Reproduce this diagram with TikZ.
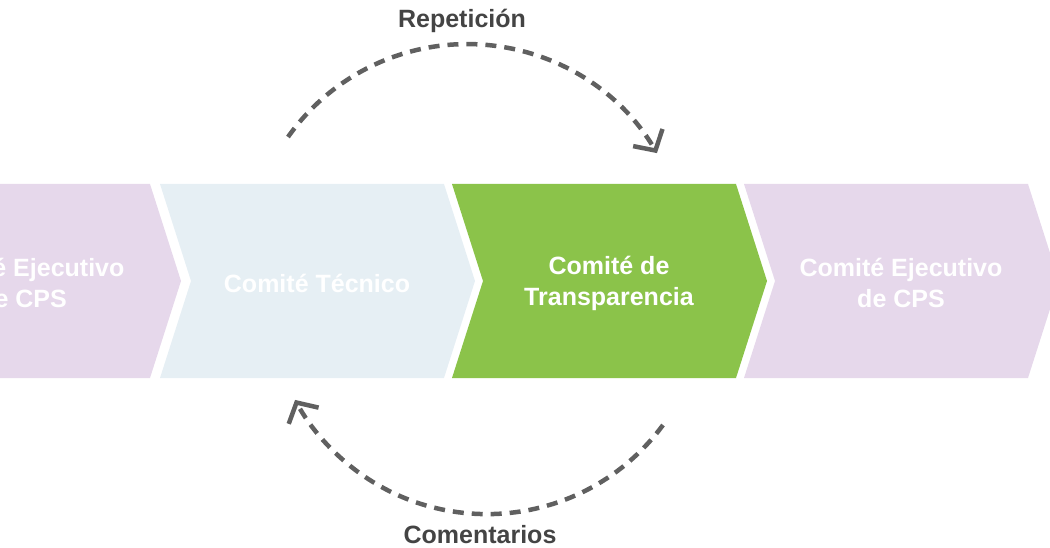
\documentclass[tikz,border=0pt]{standalone}
\usepackage{fontspec}
\setmainfont{Liberation Sans}
\usetikzlibrary{arrows.meta}
\definecolor{cpurple}{HTML}{E6D8EB}
\definecolor{cblue}{HTML}{E6EFF4}
\definecolor{cgreen}{HTML}{8BC34A}
\definecolor{cgray}{HTML}{606060}
\definecolor{ctext}{HTML}{444444}
\newcommand{\drawchev}[4]{%
  \fill[#2] (#1,184) -- ++(284,0) -- ++(31,97) -- ++(-31,97) -- ++(-284,0) -- ++(31,-97) -- cycle;
  \node[chevtext] (#3) at (#1+157,283) {#4};}
\begin{document}
\begin{tikzpicture}[x=1pt,y=-1pt,
  chevtext/.style={text=white, font=\bfseries\fontsize{25}{31}\selectfont, align=center},
  looplabel/.style={text=ctext, font=\bfseries\fontsize{25}{30}\selectfont, anchor=base},
  looparrow/.style={draw=cgray, line width=4.5pt, dash pattern=on 11pt off 8pt,
    -{Straight Barb[length=15pt, width=34pt, line width=4.5pt]}}]
\path[use as bounding box] (0,0) rectangle (1050,548);
\clip (0,0) rectangle (1050,548);
\drawchev{-134}{cpurple}{ejec1}{Comité Ejecutivo\\de CPS}
\drawchev{160}{cblue}{tecnico}{Comité Técnico}
\drawchev{452}{cgreen}{transp}{Comité de\\Transparencia}
\drawchev{744}{cpurple}{ejec2}{Comité Ejecutivo\\de CPS}
\coordinate (topstart) at (288,137);
\coordinate (botstart) at (663,425);
\draw[looparrow] (topstart) arc[start angle=215.2, end angle=329.8, radius=219.4];
\draw[looparrow] (botstart) arc[start angle=36.3, end angle=151.5, radius=218.4];
\node[looplabel] (rep) at (462,28) {Repetición};
\node[looplabel] (com) at (480,543) {Comentarios};
\end{tikzpicture}
\end{document}
